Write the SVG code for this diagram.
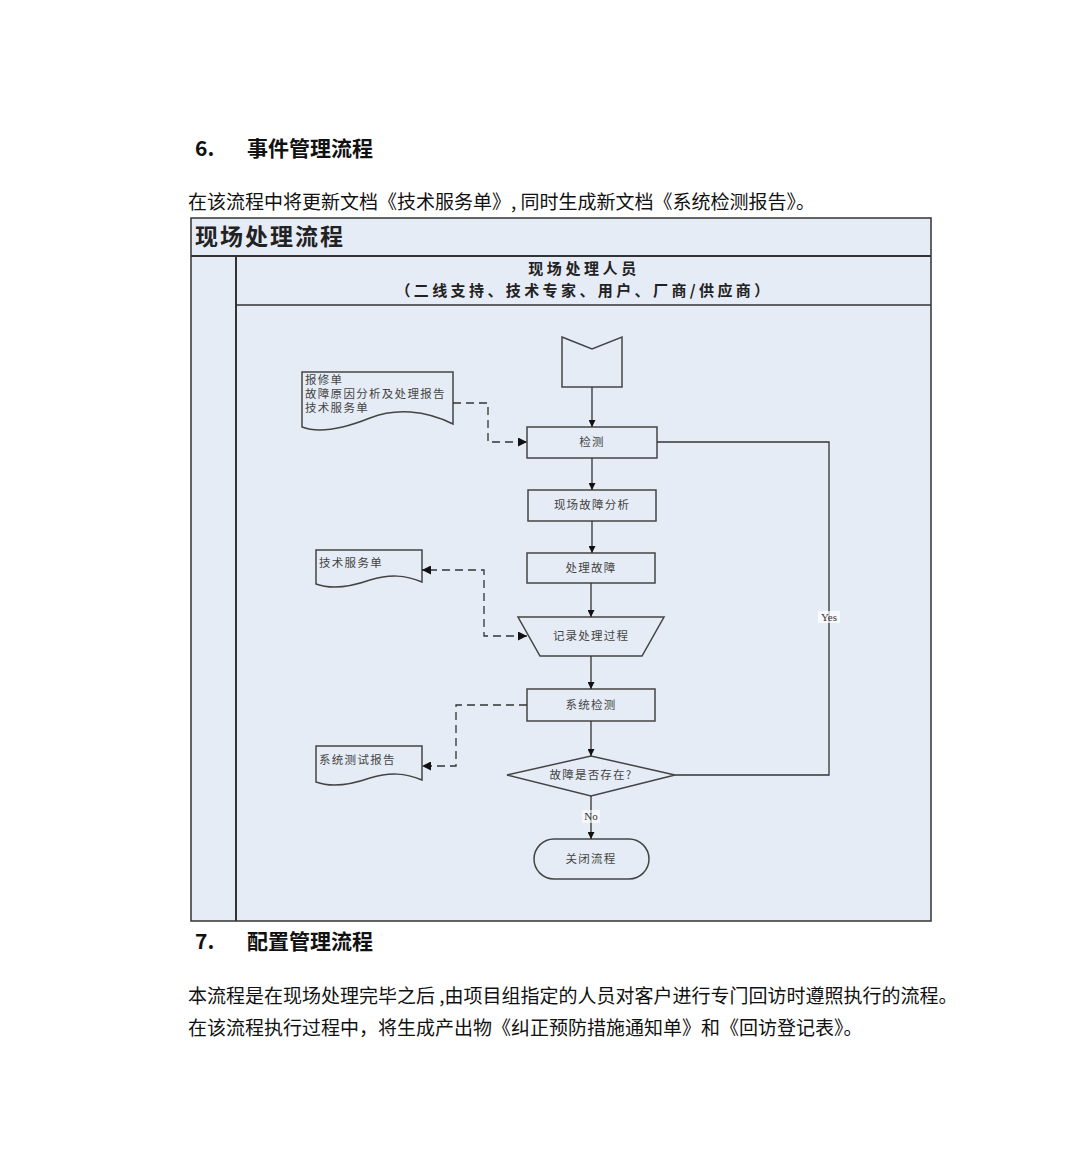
<svg xmlns="http://www.w3.org/2000/svg" width="1080" height="1164" viewBox="0 0 1080 1164">
<style>
.h{font-family:"Noto Sans CJK SC","Liberation Sans",sans-serif;font-weight:bold;font-size:21px;fill:#111}
.p{font-family:"Noto Sans CJK SC","Liberation Sans",sans-serif;font-size:19px;fill:#111}
.hd{font-family:"Noto Sans CJK SC",sans-serif;font-weight:bold;fill:#222}
.shape{fill:none;stroke:#444;stroke-width:1.5}
.lbl{font-family:"Noto Sans CJK SC",serif;font-size:11.5px;letter-spacing:1.2px;fill:#444;text-anchor:middle}
.dl{font-family:"Noto Sans CJK SC",serif;font-size:11.5px;letter-spacing:1.3px;fill:#444}
.con{fill:none;stroke:#333;stroke-width:1.3}
.dash{fill:none;stroke:#333;stroke-width:1.3;stroke-dasharray:8,5}
.yn{font-family:"Liberation Serif",serif;font-size:11px;fill:#333;text-anchor:middle}
</style>
<defs>
<marker id="ar" viewBox="0 0 10 10" refX="10" refY="5" markerWidth="7" markerHeight="7" orient="auto" markerUnits="userSpaceOnUse">
<path d="M0,0 L10,5 L0,10 z" fill="#111"/>
</marker>
<marker id="ar2" viewBox="0 0 10 10" refX="10" refY="5" markerWidth="10" markerHeight="9" orient="auto-start-reverse" markerUnits="userSpaceOnUse">
<path d="M0,0 L10,5 L0,10 z" fill="#111"/>
</marker>
</defs>
<rect width="1080" height="1164" fill="#fff"/>
<text class="h" x="195" y="156">6.</text>
<text class="h" x="247" y="156">事件管理流程</text>
<text class="p" x="188" y="209">在该流程中将更新文档《技术服务单》, 同时生成新文档《系统检测报告》。</text>

<g id="frame">
<rect x="191" y="218" width="740" height="703" fill="#e6ecf6" stroke="#333" stroke-width="1.5"/>
<line x1="191" y1="256" x2="931" y2="256" stroke="#333" stroke-width="2"/>
<line x1="236" y1="256" x2="236" y2="921" stroke="#333" stroke-width="2"/>
<line x1="236" y1="305" x2="931" y2="305" stroke="#333" stroke-width="1.5"/>
<text class="hd" x="195" y="245" font-size="23" letter-spacing="2">现场处理流程</text>
<text class="hd" x="584" y="274" font-size="15" letter-spacing="3.6" text-anchor="middle">现场处理人员</text>
<text class="hd" x="584" y="296" font-size="15" letter-spacing="3.4" text-anchor="middle">（二线支持、技术专家、用户、厂商/供应商）</text>
</g>

<g id="start"><path class="shape" d="M562,337 L592,349 L622,337 V387 H562 Z"/></g>
<g id="doc1">
<path class="shape" d="M302,372 H453 V424 C425,410 395,408 370,418 C345,428 320,434 302,427 Z"/>
<text class="dl" x="305" y="384">报修单</text>
<text class="dl" x="305" y="398">故障原因分析及处理报告</text>
<text class="dl" x="305" y="412">技术服务单</text>
</g>
<g id="jiance"><rect class="shape" x="527" y="427" width="130" height="31"/><text class="lbl" x="592" y="446">检测</text></g>
<g id="fenxi"><rect class="shape" x="528" y="490" width="128" height="31"/><text class="lbl" x="592" y="509">现场故障分析</text></g>
<g id="chuli"><rect class="shape" x="527" y="553" width="128" height="30"/><text class="lbl" x="591" y="572">处理故障</text></g>
<g id="doc2">
<path class="shape" d="M316,550 H422 V582 C405,575 390,574 370,580 C350,587 332,590 316,584 Z"/>
<text class="dl" x="319" y="567">技术服务单</text>
</g>
<g id="jilu"><path class="shape" d="M518,617 H664 L642,656 H540 Z"/><text class="lbl" x="591" y="640">记录处理过程</text></g>
<g id="xitong"><rect class="shape" x="527" y="689" width="128" height="32"/><text class="lbl" x="591" y="709">系统检测</text></g>
<g id="doc3">
<path class="shape" d="M316,746 H422 V780 C405,773 390,772 370,778 C350,785 332,788 316,782 Z"/>
<text class="dl" x="319" y="764">系统测试报告</text>
</g>
<g id="decision"><path class="shape" d="M507,775 L591,756 L675,775 L591,796 Z"/><text class="lbl" x="591" y="779">故障是否存在?</text></g>
<g id="close"><rect class="shape" x="534" y="839" width="115" height="40" rx="20" ry="20"/><text class="lbl" x="591" y="863">关闭流程</text></g>

<g id="connectors">
<line class="con" x1="592" y1="387" x2="592" y2="427" marker-end="url(#ar)"/>
<line class="con" x1="592" y1="458" x2="592" y2="490" marker-end="url(#ar)"/>
<line class="con" x1="592" y1="521" x2="592" y2="553" marker-end="url(#ar)"/>
<line class="con" x1="591" y1="583" x2="591" y2="617" marker-end="url(#ar)"/>
<line class="con" x1="591" y1="656" x2="591" y2="689" marker-end="url(#ar)"/>
<line class="con" x1="591" y1="721" x2="591" y2="756" marker-end="url(#ar)"/>
<line class="con" x1="591" y1="796" x2="591" y2="839" marker-end="url(#ar)"/>
<rect x="582" y="810" width="18" height="13" fill="#fff" opacity="0.6"/>
<text class="yn" x="591" y="820">No</text>
<path class="con" d="M657,442 H829 V775 H675"/>
<rect x="818" y="611" width="22" height="12" fill="#fff" opacity="0.7"/>
<text class="yn" x="829" y="621">Yes</text>
<path class="dash" d="M453,403 H488 V442 H527" marker-end="url(#ar2)"/>
<path class="dash" d="M527,636 H484 V570 H422" marker-start="url(#ar2)" marker-end="url(#ar2)"/>
<path class="dash" d="M527,705 H456 V766 H422" marker-end="url(#ar2)"/>
</g>

<text class="h" x="195" y="949">7.</text>
<text class="h" x="247" y="949">配置管理流程</text>
<text class="p" x="188" y="1003">本流程是在现场处理完毕之后 ,由项目组指定的人员对客户进行专门回访时遵照执行的流程。</text>
<text class="p" x="188" y="1035">在该流程执行过程中，将生成产出物《纠正预防措施通知单》和《回访登记表》。</text>
</svg>
